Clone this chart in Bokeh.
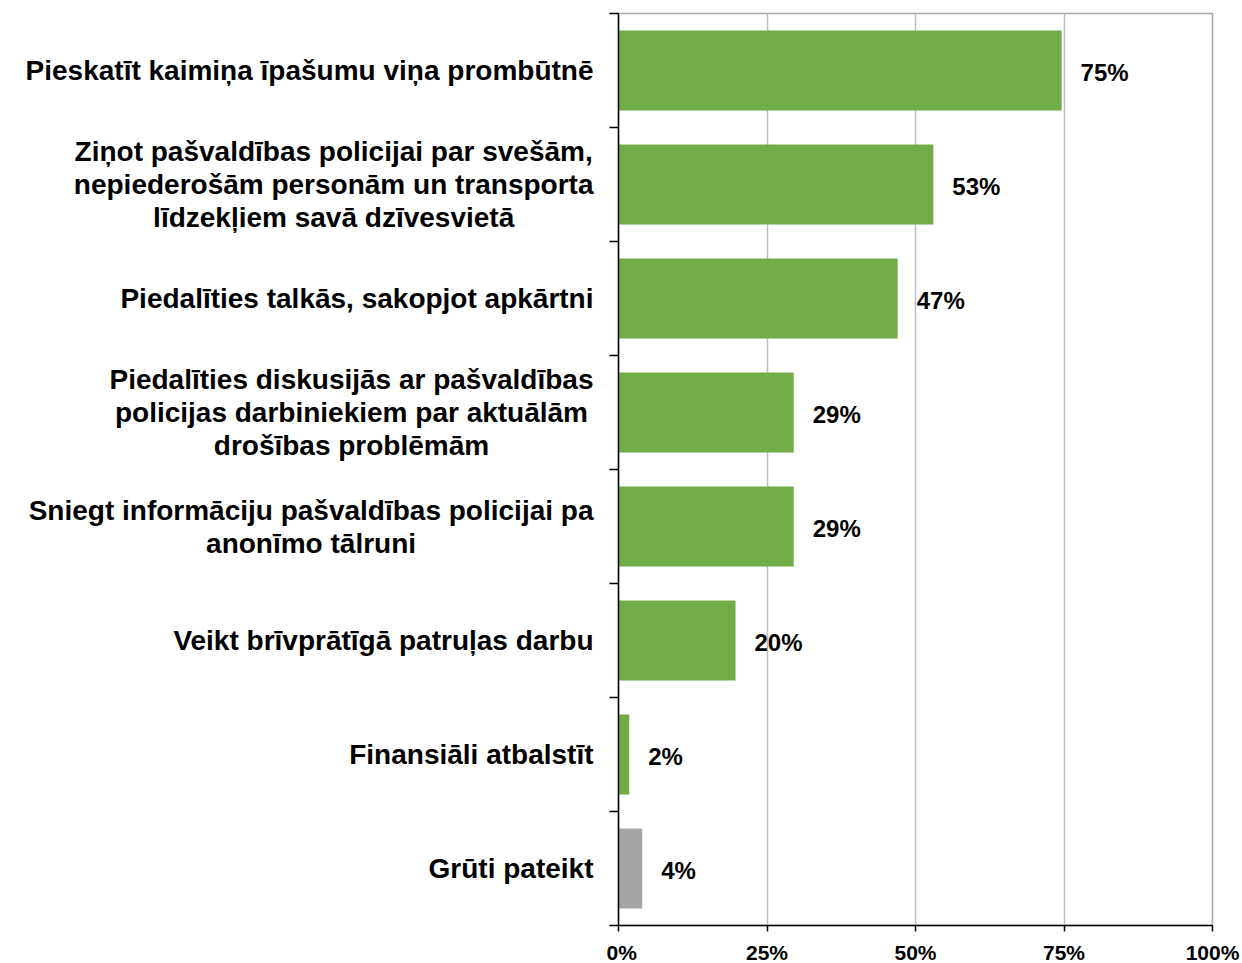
from bokeh.plotting import figure
from bokeh.layouts import row
from bokeh.models import Range1d, FixedTicker
from bokeh.core.properties import value
from bokeh.embed import file_html
from bokeh.resources import INLINE

# ---- data ----
categories = [
    ["Pieskatīt kaimiņa īpašumu viņa prombūtnē"],
    ["Ziņot pašvaldības policijai par svešām,", "nepiederošām personām un transporta", "līdzekļiem savā dzīvesvietā"],
    ["Piedalīties talkās, sakopjot apkārtni"],
    ["Piedalīties diskusijās ar pašvaldības", "policijas darbiniekiem par aktuālām", "drošības problēmām"],
    ["Sniegt informāciju pašvaldības policijai pa", "anonīmo tālruni"],
    ["Veikt brīvprātīgā patruļas darbu"],
    ["Finansiāli atbalstīt"],
    ["Grūti pateikt"],
]
values = [74.6, 53.0, 47.0, 29.5, 29.5, 19.7, 1.8, 4.0]
value_labels = ["75%", "53%", "47%", "29%", "29%", "20%", "2%", "4%"]
x_ticks = [0, 25, 50, 75, 100]
x_tick_labels = ["0%", "25%", "50%", "75%", "100%"]

# ---- style ----
FONT = "Liberation Sans"
GREEN = "#70AD47"
GRAY = "#A5A5A5"
CAT_SIZE = 28
LINE_GAP_PX = 33
FRAME_H = 912
TOP = 13
LEFT_W = 606
LABEL_GAP = 25

n = len(categories)
ys = [n - i - 0.5 for i in range(n)]
colors = [GRAY if c[0] == "Grūti pateikt" else GREEN for c in categories]

# Arial/Liberation Sans Bold advance widths (per 1000 em)
_w = {}
for width, chars in {278: " ,.ijlIīļ", 333: "ft", 389: "r", 500: "zž",
                     556: "aceksvxyāēšķč", 611: "bdghnopquņūZF", 667: "PSV",
                     778: "wG", 889: "m"}.items():
    for ch in chars:
        _w[ch] = width

def text_width(s, size):
    return sum(_w.get(ch, 600) for ch in s) * size / 1000.0

y_range = Range1d(0, n)

# ---- left panel: category labels ----
left = figure(width=LEFT_W, frame_height=FRAME_H, output_backend="svg", toolbar_location=None,
              x_range=Range1d(0, LEFT_W), y_range=y_range,
              min_border_left=0, min_border_right=0, min_border_top=TOP, min_border_bottom=0)
left.axis.visible = False
left.grid.grid_line_color = None
left.outline_line_color = None

unit_px = FRAME_H / n
tx, ty, tt, ta = [], [], [], []
right_edge = LEFT_W - LABEL_GAP + 12
for lines, y in zip(categories, ys):
    k = len(lines)
    wmax = max(text_width(s, CAT_SIZE) for s in lines)
    for j, s in enumerate(lines):
        dy = ((k - 1) / 2 - j) * LINE_GAP_PX / unit_px
        ty.append(y + dy)
        tt.append(s)
        if k == 1:
            tx.append(right_edge)
            ta.append("right")
        else:
            tx.append(right_edge - wmax / 2)
            ta.append("center")
left.text(x=tx, y=ty, text=tt, text_align=ta, text_baseline="middle",
          text_font=value(FONT), text_font_style="bold", text_font_size=f"{CAT_SIZE}px",
          text_color="black")

# ---- right panel: bars ----
p = figure(width=1240 - LEFT_W, frame_height=FRAME_H, output_backend="svg", toolbar_location=None,
           x_range=Range1d(0, 100), y_range=y_range,
           min_border_left=12, min_border_right=28, min_border_top=TOP, min_border_bottom=30)
p.outline_line_color = "#A6A6A6"
p.outline_line_width = 1.5
p.background_fill_color = "white"

p.hbar(y=ys, right=values, left=0, height=0.7, color=colors, line_color=None)

p.text(x=values, y=ys, text=value_labels, x_offset=19, y_offset=2,
       text_align="left", text_baseline="middle",
       text_font=value(FONT), text_font_style="bold", text_font_size="24px",
       text_color="black")

xa = p.xaxis[0]
xa.ticker = FixedTicker(ticks=x_ticks)
xa.major_label_overrides = {t: l for t, l in zip(x_ticks, x_tick_labels)}
xa.major_label_text_font = FONT
xa.major_label_text_font_style = "bold"
xa.major_label_text_font_size = "21px"
xa.major_label_text_color = "black"
xa.major_label_standoff = 9
xa.axis_line_color = "black"
xa.axis_line_width = 1.5
xa.major_tick_out = 6
xa.major_tick_in = 0
xa.major_tick_line_width = 1.5
xa.minor_tick_line_color = None

ya = p.yaxis[0]
ya.ticker = FixedTicker(ticks=list(range(n + 1)))
ya.major_label_overrides = {i: "" for i in range(n + 1)}
ya.major_label_standoff = 0
ya.axis_line_color = "black"
ya.axis_line_width = 1.5
ya.major_tick_out = 9
ya.major_tick_in = 0
ya.major_tick_line_width = 1.5
ya.minor_tick_line_color = None

p.xgrid.ticker = FixedTicker(ticks=x_ticks[1:])
p.xgrid.grid_line_color = "#BFBFBF"
p.xgrid.grid_line_width = 1.5
p.ygrid.grid_line_color = None

layout = row(left, p, spacing=0)
open("out.html", "w").write(file_html(layout, INLINE))
